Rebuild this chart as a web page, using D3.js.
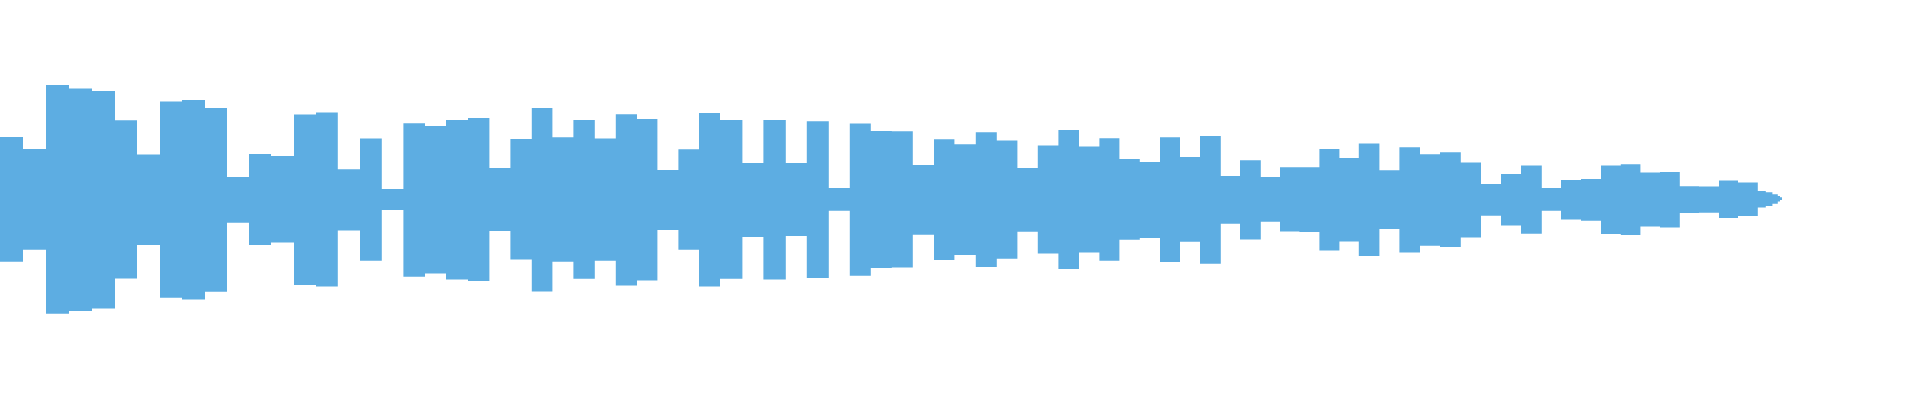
<!DOCTYPE html>
<html>
<head>
<meta charset="utf-8">
<script src="https://cdn.jsdelivr.net/npm/d3@7"></script>
<style>
  html, body { margin: 0; padding: 0; background: #ffffff; }
  svg { display: block; }
</style>
</head>
<body>
<svg id="chart" width="1920" height="400"></svg>
<script>
// segment start times (seconds)
const times = [0, 0.115, 0.23, 0.345, 0.46, 0.575, 0.685, 0.8, 0.91, 1.025,
  1.135, 1.245, 1.355, 1.47, 1.58, 1.689, 1.8, 1.909, 2.017, 2.125,
  2.23, 2.34, 2.447, 2.552, 2.659, 2.762, 2.867, 2.974, 3.079, 3.185,
  3.287, 3.392, 3.495, 3.6, 3.712, 3.817, 3.929, 4.034, 4.144, 4.249,
  4.354, 4.459, 4.564, 4.67, 4.772, 4.879, 4.984, 5.087, 5.189, 5.292,
  5.395, 5.497, 5.597, 5.699, 5.8, 5.9, 6.0, 6.104, 6.2, 6.304,
  6.4, 6.497, 6.597, 6.697, 6.794, 6.897, 6.997, 7.1, 7.2, 7.304,
  7.405, 7.505, 7.605, 7.709, 7.805, 7.905, 8.005, 8.104, 8.202, 8.3,
  8.399, 8.495, 8.595, 8.69, 8.789, 8.829, 8.862, 8.889, 8.9];
const duration = 8.91;

// peak (max) amplitude per segment
const peaks = [0.31, 0.25, 0.57, 0.552, 0.54, 0.394, 0.223, 0.487, 0.495, 0.455,
  0.11, 0.225, 0.215, 0.423, 0.432, 0.149, 0.302, 0.05, 0.379, 0.365,
  0.395, 0.405, 0.155, 0.3, 0.455, 0.309, 0.395, 0.303, 0.424, 0.4,
  0.145, 0.249, 0.43, 0.395, 0.18, 0.395, 0.18, 0.389, 0.055, 0.377,
  0.34, 0.339, 0.17, 0.299, 0.274, 0.334, 0.292, 0.155, 0.267, 0.345,
  0.262, 0.304, 0.2, 0.185, 0.309, 0.21, 0.315, 0.115, 0.194, 0.11,
  0.159, 0.159, 0.25, 0.205, 0.277, 0.144, 0.259, 0.224, 0.234, 0.182,
  0.075, 0.125, 0.167, 0.055, 0.095, 0.1, 0.167, 0.174, 0.132, 0.135,
  0.064, 0.062, 0.092, 0.082, 0.04, 0.034, 0.024, 0.015, 0.009];

// trough (min) amplitude per segment
const troughs = [-0.314, -0.254, -0.574, -0.56, -0.547, -0.397, -0.23, -0.494, -0.502, -0.464,
  -0.119, -0.23, -0.217, -0.43, -0.437, -0.157, -0.309, -0.055, -0.389, -0.372,
  -0.402, -0.41, -0.16, -0.302, -0.462, -0.314, -0.399, -0.309, -0.432, -0.407,
  -0.155, -0.254, -0.437, -0.399, -0.19, -0.402, -0.185, -0.395, -0.059, -0.384,
  -0.345, -0.342, -0.179, -0.305, -0.28, -0.34, -0.299, -0.164, -0.272, -0.35,
  -0.267, -0.309, -0.204, -0.195, -0.315, -0.214, -0.324, -0.124, -0.202, -0.114,
  -0.162, -0.165, -0.257, -0.212, -0.285, -0.15, -0.267, -0.234, -0.24, -0.192,
  -0.084, -0.132, -0.174, -0.059, -0.102, -0.109, -0.175, -0.18, -0.137, -0.142,
  -0.07, -0.069, -0.095, -0.085, -0.042, -0.035, -0.024, -0.012, -0.005];

const W = 1920, H = 400;
const svg = d3.select("#chart");

const x = d3.scaleLinear().domain([0, duration]).range([0, 1782]);
const y = d3.scaleLinear().domain([-1, 1]).range([399, -1]);

const data = times.map((t, i) => ({ t, hi: peaks[i], lo: troughs[i] }));
data.push({ t: duration, hi: 0, lo: 0 });

const area = d3.area()
  .curve(d3.curveStepAfter)
  .x(d => x(d.t))
  .y0(d => y(d.lo))
  .y1(d => y(d.hi));

svg.append("path")
  .datum(data)
  .attr("fill", "#5DADE2")
  .attr("d", area);
</script>
</body>
</html>
